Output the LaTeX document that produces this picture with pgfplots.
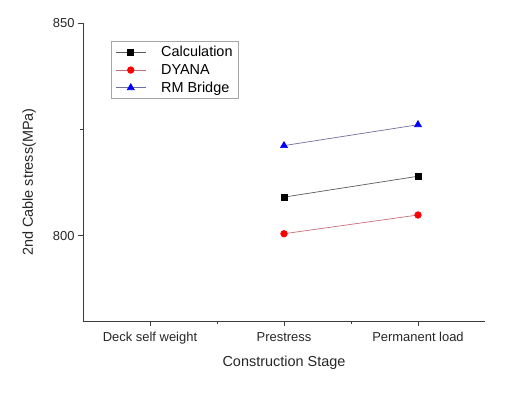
\documentclass[border=0pt]{standalone}
\usepackage{fontspec}
\setmainfont{Liberation Sans}
\usepackage{pgfplots}
\pgfplotsset{compat=1.18}
\definecolor{calcline}{RGB}{90,90,90}
\definecolor{dyanaline}{RGB}{200,110,120}
\definecolor{rmline}{RGB}{110,110,160}
\definecolor{axgray}{RGB}{60,60,60}
\begin{document}
\begin{tikzpicture}
\useasboundingbox (0,0) rectangle (505bp,402bp);
\begin{axis}[
  scale only axis,
  width=402bp, height=298bp,
  at={(83bp,81bp)}, anchor=south west,
  xmin=-0.5, xmax=2.5, ymin=780, ymax=850,
  axis x line*=bottom, axis y line*=left,
  axis line style={axgray, line width=0.9pt, -},
  xtick={0,1,2},
  xticklabels={Deck self weight, Prestress, Permanent load},
  minor xtick={0.5,1.5},
  ytick={800,850},
  minor ytick={825},
  tick align=outside,
  major tick length=5bp, minor tick length=3bp,
  tick style={axgray, line width=0.8pt},
  /pgf/number format/assume math mode=true,
  ticklabel style={font=\fontsize{13}{15}\selectfont, text=black!85},
  xticklabel style={yshift=-3bp},
  xlabel={Construction Stage},
  ylabel={2nd Cable stress(MPa)},
  label style={font=\fontsize{14.5}{16}\selectfont, text=black!85},
  xlabel style={at={(axis description cs:0.5,-0.141)}, anchor=center},
  ylabel style={at={(axis description cs:-0.134,0.466)}, anchor=center},
  legend style={at={(0.0697,0.9396)}, anchor=north west, draw=gray!70, line width=0.8pt,
    font=\fontsize{14.5}{16}\selectfont, row sep=2bp, inner xsep=4bp, inner ysep=3bp,
    /tikz/every odd column/.append style={column sep=13bp}},
  legend image code/.code={%
    \draw[mark repeat=2,mark phase=2,#1] plot coordinates {(0bp,0bp) (15bp,0bp) (30bp,0bp)};},
  legend cell align=left,
  clip=false,
]
\addplot[calcline, line width=0.7pt, mark=square*, mark size=3bp, mark options={black, solid, fill=black}]
  coordinates {(1,809.1) (2,814.0)};
\addlegendentry{Calculation}
\addplot[dyanaline, line width=0.7pt, mark=*, mark size=3.3bp, mark options={red, fill=red}]
  coordinates {(1,800.5) (2,804.9)};
\addlegendentry{DYANA}
\addplot[rmline, line width=0.7pt, mark=triangle*, mark size=4bp, mark options={blue, fill=blue}]
  coordinates {(1,821.2) (2,826.1)};
\addlegendentry{RM Bridge}
\end{axis}
\end{tikzpicture}
\end{document}
